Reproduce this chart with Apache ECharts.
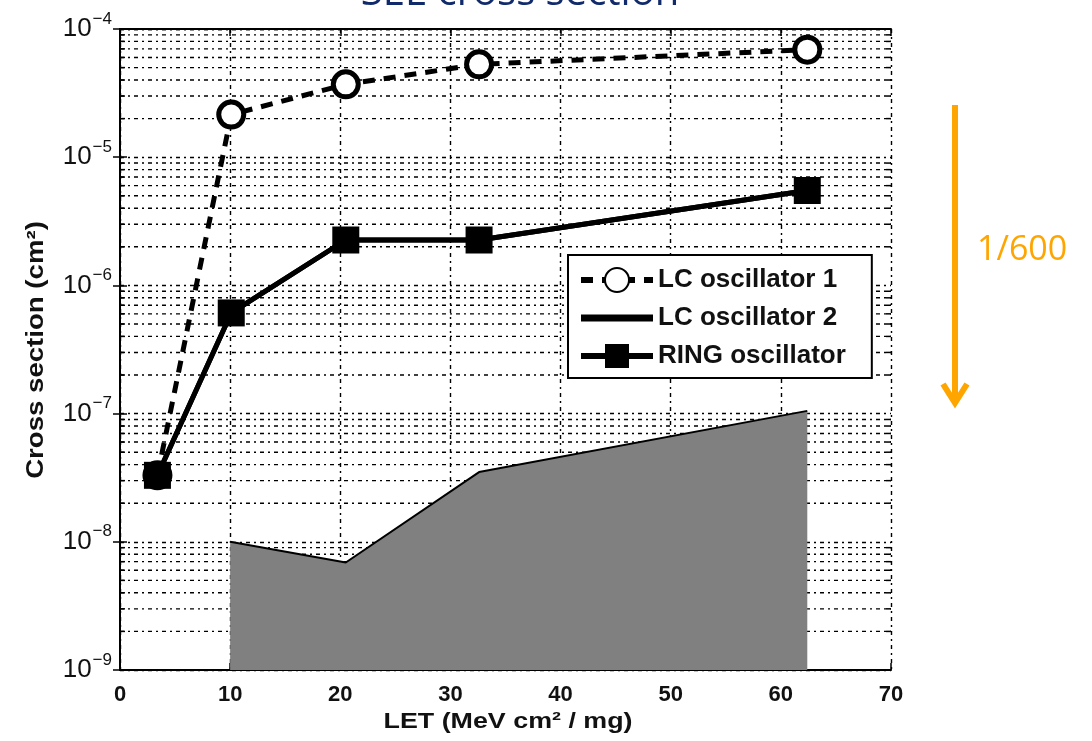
<!DOCTYPE html>
<html>
<head>
    <meta charset="utf-8">
    <title>SEE cross section</title>
    <script src="https://cdn.jsdelivr.net/npm/echarts@6/dist/echarts.min.js"></script>
    <style type="text/css">
        html, body { margin: 0; padding: 0; background: #fff; }
        #main { width: 1092px; height: 741px; }
    </style>
</head>
<body>
<div id="main"></div>
<script type="text/javascript">
    // values (LET in MeV cm2/mg, cross section in cm2)
    var letPoints = [3.4, 10.1, 20.5, 32.6, 62.4];
    var lcOsc1 = [3.3e-8, 2.15e-5, 3.7e-5, 5.3e-5, 6.9e-5];
    var lcOsc2 = [3.3e-8, 6.1e-7, 2.26e-6, 2.26e-6, 5.5e-6];
    var ringOsc = [3.3e-8, 6.1e-7, 2.26e-6, 2.26e-6, 5.5e-6];
    var areaLet = [10, 20.5, 32.6, 62.4];
    var areaVals = [1.0e-8, 6.9e-9, 3.5e-8, 1.05e-7];
    var xTicks = [0, 10, 20, 30, 40, 50, 60, 70];
    var decades = [-9, -8, -7, -6, -5, -4];

    function pairs(xs, ys) {
        return xs.map(function (x, i) { return [x, ys[i]]; });
    }

    // minor log grid at 2..9 x 10^k
    var minorVals = [];
    for (var d = 0; d < decades.length - 1; d++) {
        for (var m = 2; m <= 9; m++) {
            minorVals.push([m * Math.pow(10, decades[d])]);
        }
    }

    var dotDash = [4, 4, 2, 4];
    var gridStyle = {color: '#000', width: 1.4, type: dotDash};
    var chart = echarts.init(document.getElementById('main'));

    function axisX(pos) {
        return {
            type: 'value', min: 0, max: 70, interval: 10, position: pos,
            axisLine: {show: true, lineStyle: {color: '#000', width: 2}},
            axisTick: {inside: true, length: 7, lineStyle: {color: '#000', width: 1.5}},
            axisLabel: {show: pos === 'bottom', fontSize: 22, fontWeight: 'bold', color: '#111', margin: 14},
            splitLine: {show: pos === 'bottom', lineStyle: gridStyle}
        };
    }

    function axisY(pos) {
        return {
            type: 'log', min: 1e-9, max: 1e-4, logBase: 10, position: pos,
            axisLine: {show: true, lineStyle: {color: '#000', width: 2}},
            axisTick: {inside: true, length: 7, lineStyle: {color: '#000', width: 1.5}},
            axisLabel: {
                show: pos === 'left', margin: 8, color: '#111',
                formatter: function (v) {
                    var e = Math.round(Math.log(v) / Math.LN10);
                    return '{b|10}{e|\u2212' + (-e) + '}';
                },
                rich: {
                    b: {fontSize: 26, color: '#111', fontFamily: 'Liberation Sans'},
                    e: {fontSize: 17, color: '#111', fontFamily: 'Liberation Sans', padding: [0, 0, 20, 1]}
                }
            },
            splitLine: {show: pos === 'left', lineStyle: gridStyle}
        };
    }

    chart.setOption({
        animation: false,
        textStyle: {fontFamily: 'Liberation Sans, Arial, sans-serif'},
        grid: {left: 120, right: 201, top: 29, bottom: 71},
        legend: {
            data: [
                {name: 'LC oscillator 1'},
                // black bar that merges into the solid line
                {name: 'LC oscillator 2', icon: 'path://M0,0H100V10H0Z'},
                {name: 'RING oscillator'}
            ],
            orient: 'vertical',
            left: 568, top: 255,
            padding: [12, 26, 9, 10],
            itemGap: 12,
            itemWidth: 72, itemHeight: 30,
            lineStyle: {width: 6},
            backgroundColor: '#fff',
            borderColor: '#000', borderWidth: 2,
            textStyle: {fontSize: 26, fontWeight: 'bold', color: '#111'}
        },
        xAxis: [axisX('bottom'), axisX('top')],
        yAxis: [axisY('left'), axisY('right')],
        graphic: [
            {type: 'text', x: 520, y: 14, z: 100,
                style: {text: 'SEE cross section', fill: '#102a6b', align: 'center', verticalAlign: 'bottom',
                    font: '40px "Open Sans", sans-serif'}},
            {type: 'text', x: 508, y: 722, z: 100, scaleX: 1.22,
                style: {text: 'LET (MeV cm\u00b2 / mg)', fill: '#111', align: 'center', verticalAlign: 'middle',
                    font: 'bold 22px "Liberation Sans", Arial, sans-serif'}},
            {type: 'text', x: 37, y: 350, z: 100, rotation: Math.PI / 2, scaleX: 1.2,
                style: {text: 'Cross section (cm\u00b2)', fill: '#111', align: 'center', verticalAlign: 'middle',
                    font: 'bold 23px "Liberation Sans", Arial, sans-serif'}},
            {type: 'line', shape: {x1: 955, y1: 105, x2: 955, y2: 402}, z: 100,
                style: {stroke: '#ffa500', lineWidth: 6}},
            {type: 'polyline', shape: {points: [[943, 384], [955, 403], [967, 384]]}, z: 100,
                style: {stroke: '#ffa500', lineWidth: 6, fill: null}},
            {type: 'text', x: 977, y: 250, z: 100,
                style: {text: '1/600', fill: '#ffa500', verticalAlign: 'middle',
                    font: '34px "Open Sans", sans-serif'}}
        ],
        series: [
            {
                name: 'minor grid', type: 'custom', data: minorVals, z: 0, silent: true,
                encode: {y: 0},
                renderItem: function (params, api) {
                    var v = api.value(0);
                    var p0 = api.coord([0, v]);
                    var p1 = api.coord([70, v]);
                    return {
                        type: 'group',
                        children: [
                            {type: 'line', shape: {x1: p0[0], y1: p0[1], x2: p1[0], y2: p1[1]},
                                style: {stroke: '#000', lineWidth: 1.4, lineDash: dotDash}},
                            {type: 'line', shape: {x1: p0[0], y1: p0[1], x2: p0[0] + 5, y2: p0[1]},
                                style: {stroke: '#000', lineWidth: 1.5}},
                            {type: 'line', shape: {x1: p1[0] - 5, y1: p1[1], x2: p1[0], y2: p1[1]},
                                style: {stroke: '#000', lineWidth: 1.5}}
                        ]
                    };
                }
            },
            {
                name: 'area', type: 'line', data: pairs(areaLet, areaVals),
                symbol: 'none', z: 1,
                lineStyle: {color: '#000', width: 2},
                areaStyle: {color: '#808080', opacity: 1, origin: 'start'}
            },
            {
                name: 'LC oscillator 1', type: 'line', data: pairs(letPoints, lcOsc1),
                symbol: 'circle', symbolSize: 25, z: 3,
                lineStyle: {color: '#000', width: 5, type: [12, 9]},
                itemStyle: {color: '#fff', borderColor: '#000', borderWidth: 5}
            },
            {
                name: 'LC oscillator 2', type: 'line', data: pairs(letPoints, lcOsc2),
                symbol: 'none', z: 4,
                lineStyle: {color: '#000', width: 5},
                itemStyle: {color: '#000'}
            },
            {
                name: 'RING oscillator', type: 'line', data: pairs(letPoints, ringOsc),
                symbol: 'rect', symbolSize: 27, z: 5,
                lineStyle: {color: '#000', width: 5},
                itemStyle: {color: '#000'}
            }
        ]
    });
</script>
</body>
</html>
